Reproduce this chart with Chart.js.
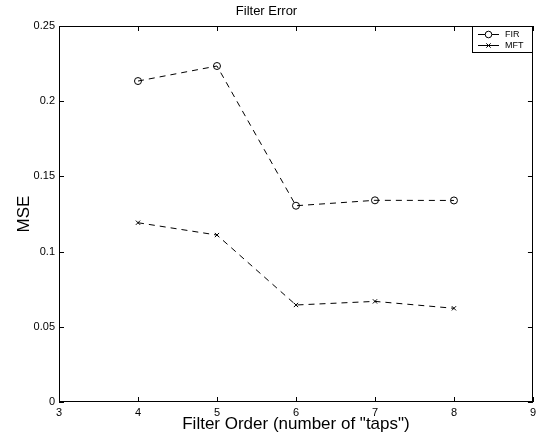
<!DOCTYPE html>
<html><head><meta charset="utf-8">
<script src="https://cdn.jsdelivr.net/npm/chart.js@4"></script>
<style>html,body{margin:0;padding:0;background:#fff}#c{display:block}</style>
</head><body><canvas id="c" width="540" height="444"></canvas>
<script>
const filterOrders = [4, 5, 6, 7, 8];
const firMSE = [0.2134, 0.2234, 0.1305, 0.1341, 0.1340];
const mftMSE = [0.1192, 0.1110, 0.0645, 0.0669, 0.0623];
const xTicks = [3, 4, 5, 6, 7, 8, 9];
const yTicks = [0, 0.05, 0.1, 0.15, 0.2, 0.25];
const yTickLabels = ['0', '0.05', '0.1', '0.15', '0.2', '0.25'];
const seriesNames = ['FIR', 'MFT'];

const FONT = '"Liberation Sans", Arial, Helvetica, sans-serif';

const frameTicks = {
  id: 'frameTicks',
  afterDraw(chart) {
    const {ctx, chartArea: a, scales: {x, y}} = chart;
    ctx.save();
    ctx.strokeStyle = '#000';
    ctx.lineWidth = 1;
    ctx.strokeRect(Math.round(a.left) + 0.5, Math.round(a.top) + 0.5,
      Math.round(a.right - a.left) - 1, Math.round(a.bottom - a.top) - 1);
    const L = 5;
    ctx.beginPath();
    xTicks.forEach(v => {
      const px = Math.round(x.getPixelForValue(v)) + 0.5;
      ctx.moveTo(px, a.bottom); ctx.lineTo(px, a.bottom - L);
      ctx.moveTo(px, a.top); ctx.lineTo(px, a.top + L);
    });
    yTicks.forEach(v => {
      const py = Math.round(y.getPixelForValue(v)) + 0.5;
      ctx.moveTo(a.left, py); ctx.lineTo(a.left + L, py);
      ctx.moveTo(a.right, py); ctx.lineTo(a.right - L, py);
    });
    ctx.stroke();

    // legend box
    const bw = 61, bh = 27;
    const bx = Math.round(a.right) - bw, by = Math.round(a.top);
    ctx.fillStyle = '#fff';
    ctx.fillRect(bx, by, bw, bh);
    ctx.strokeRect(bx + 0.5, by + 0.5, bw - 1, bh - 1);
    ctx.font = '9px ' + FONT;
    ctx.textBaseline = 'middle';
    ctx.fillStyle = '#000';
    chart.data.datasets.forEach((ds, i) => {
      const ly = by + 8 + i * 11 + 0.5;
      ctx.beginPath();
      ctx.setLineDash([]);
      ctx.moveTo(bx + 6, ly); ctx.lineTo(bx + 27, ly);
      ctx.stroke();
      const cx = bx + 16.5;
      ctx.beginPath();
      if (ds.pointStyle === 'circle') {
        ctx.fillStyle = '#fff';
        ctx.arc(cx, ly, 3.3, 0, Math.PI * 2);
        ctx.fill();
        ctx.stroke();
      } else {
        const r = 2.2;
        ctx.moveTo(cx - r, ly - r); ctx.lineTo(cx + r, ly + r);
        ctx.moveTo(cx - r, ly + r); ctx.lineTo(cx + r, ly - r);
        ctx.stroke();
      }
      ctx.fillStyle = '#000';
      ctx.fillText(ds.label, bx + 33, ly);
    });
    ctx.restore();
  }
};

new Chart(document.getElementById('c'), {
  type: 'line',
  data: {
    datasets: [
      {
        label: seriesNames[0],
        data: filterOrders.map((o, i) => ({x: o, y: firMSE[i]})),
        borderColor: '#000', borderWidth: 1, borderDash: [6, 5],
        pointStyle: 'circle', pointRadius: 3.5, pointBorderWidth: 1,
        pointBorderColor: '#000', pointBackgroundColor: 'rgba(0,0,0,0)',
        tension: 0, fill: false
      },
      {
        label: seriesNames[1],
        data: filterOrders.map((o, i) => ({x: o, y: mftMSE[i]})),
        borderColor: '#000', borderWidth: 1, borderDash: [6, 5],
        pointStyle: 'crossRot', pointRadius: 3, pointBorderWidth: 1,
        pointBorderColor: '#000', pointBackgroundColor: 'rgba(0,0,0,0)',
        tension: 0, fill: false
      }
    ]
  },
  options: {
    responsive: false,
    animation: false,
    devicePixelRatio: 1,
    layout: {padding: {left: 0, right: 7, top: 0, bottom: 0}},
    plugins: {
      legend: {display: false},
      tooltip: {enabled: false},
      title: {
        display: true, text: 'Filter Error', color: '#000',
        font: {family: FONT, size: 13, weight: 'normal', lineHeight: 1.2},
        padding: {top: 4, bottom: 6.4}
      }
    },
    scales: {
      x: {
        type: 'linear', min: 3, max: 9,
        afterBuildTicks: s => { s.ticks = xTicks.map(v => ({value: v})); },
        afterFit: s => { s.height = 42; },
        grid: {display: false, drawTicks: false},
        border: {display: false},
        ticks: {color: '#000', padding: 4, font: {family: FONT, size: 11}, maxRotation: 0,
          callback: v => String(v)},
        title: {display: true, text: 'Filter Order (number of "taps")', color: '#000',
          font: {family: FONT, size: 17}, padding: {top: 9, bottom: 9}}
      },
      y: {
        type: 'linear', min: 0, max: 0.25,
        afterBuildTicks: s => { s.ticks = yTicks.map(v => ({value: v})); },
        afterFit: s => { s.width = 59; },
        grid: {display: false, drawTicks: false},
        border: {display: false},
        ticks: {color: '#000', padding: 4, font: {family: FONT, size: 11},
          callback: v => yTickLabels[yTicks.findIndex(t => Math.abs(t - v) < 1e-9)]},
        title: {display: true, text: 'MSE', color: '#000',
          font: {family: FONT, size: 17}, padding: {top: 14, bottom: 14}}
      }
    }
  },
  plugins: [frameTicks]
});
</script>
</body></html>
